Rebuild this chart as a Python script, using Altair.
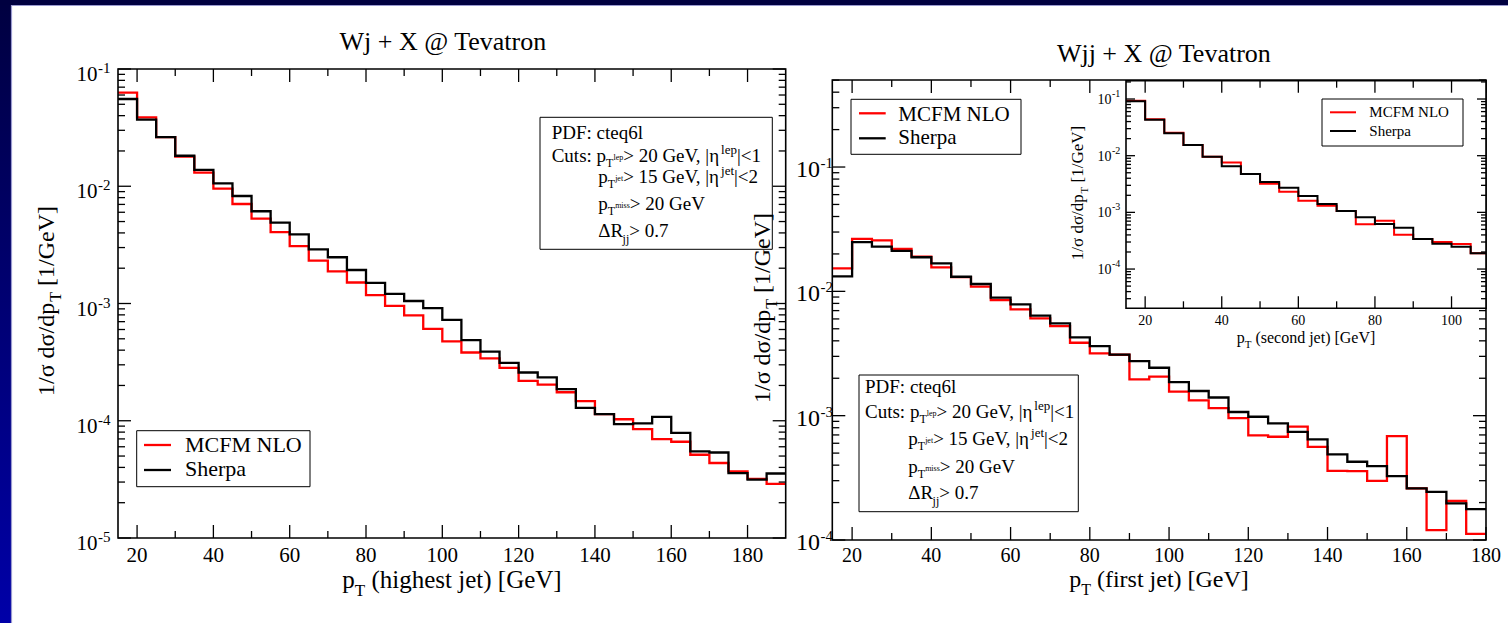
import altair as alt
import pandas as pd

FONT = "Liberation Serif"

# ---------------- data ----------------
BIN_W = 5
wj_bins = [15, 20, 25, 30, 35, 40, 45, 50, 55, 60, 65, 70, 75, 80, 85, 90, 95, 100,
           105, 110, 115, 120, 125, 130, 135, 140, 145, 150, 155, 160, 165, 170, 175, 180, 185]
wj_mcfm = [0.0628, 0.0387, 0.0262, 0.01786, 0.01305, 0.00954, 0.00706, 0.0053, 0.00407,
           0.00308, 0.00232, 0.00188, 0.00151, 0.00118, 0.000954, 0.000792, 0.000607,
           0.000475, 0.000382, 0.00034, 0.000283, 0.000219, 0.000203, 0.000175, 0.000147,
           0.000114, 0.000103, 0.0000849, 0.0000698, 0.0000662, 0.0000513, 0.0000436,
           0.000037, 0.0000319, 0.0000289]
wj_sherpa = [0.0555, 0.037, 0.0262, 0.0182, 0.01377, 0.0106, 0.00826, 0.00612, 0.0049,
             0.00389, 0.0029, 0.00248, 0.00193, 0.0015, 0.00121, 0.00105, 0.000912,
             0.000724, 0.000488, 0.000389, 0.000312, 0.000258, 0.000234, 0.000186, 0.000129,
             0.000114, 0.0000936, 0.0000948, 0.000108, 0.0000789, 0.0000547, 0.0000536,
             0.0000358, 0.0000315, 0.0000355]

wjj_bins = [15, 20, 25, 30, 35, 40, 45, 50, 55, 60, 65, 70, 75, 80, 85, 90, 95, 100,
            105, 110, 115, 120, 125, 130, 135, 140, 145, 150, 155, 160, 165, 170, 175]
wjj_mcfm = [0.0153, 0.0264, 0.0257, 0.022, 0.019, 0.0156, 0.013, 0.0109, 0.0085, 0.00716,
            0.00607, 0.00526, 0.00386, 0.00317, 0.00309, 0.00196, 0.00206, 0.00156, 0.00133,
            0.00115, 0.000957, 0.000695, 0.000677, 0.000815, 0.000562, 0.00036, 0.000358,
            0.000299, 0.000686, 0.00026, 0.00012, 0.000206, 0.000112]
wjj_sherpa = [0.0132, 0.0249, 0.0229, 0.0212, 0.0188, 0.0168, 0.0131, 0.01146, 0.00889,
              0.00786, 0.00637, 0.00553, 0.00427, 0.00363, 0.0031, 0.00275, 0.00243, 0.00186,
              0.00158, 0.0014, 0.00107, 0.00098, 0.000867, 0.000742, 0.000644, 0.000489,
              0.000426, 0.000393, 0.000327, 0.00026, 0.000244, 0.000197, 0.000177]

ins_bins = [15, 20, 25, 30, 35, 40, 45, 50, 55, 60, 65, 70, 75, 80, 85, 90, 95, 100, 105]
ins_mcfm = [0.093, 0.0438, 0.0255, 0.0155, 0.0096, 0.00762, 0.00475, 0.0032, 0.00232,
            0.00161, 0.00131, 0.00106, 0.000615, 0.000714, 0.000403, 0.000338, 0.000299,
            0.000276, 0.00019]
ins_sherpa = [0.091, 0.0430, 0.0250, 0.0155, 0.0096, 0.00648, 0.00475, 0.00343, 0.00273,
              0.00195, 0.00141, 0.00106, 0.000818, 0.000624, 0.000535, 0.000338, 0.00028,
              0.000247, 0.00019]

x_major_main = [20, 40, 60, 80, 100, 120, 140, 160, 180]
x_minor_main = [30, 50, 70, 90, 110, 130, 150, 170]
x_major_ins = [20, 40, 60, 80, 100]
x_minor_ins = [30, 50, 70, 90]

# ---------------- text metrics (Times-like) ----------------
CW = {' ': 250, '!': 333, '(': 333, ')': 333, '+': 564, ',': 250, '-': 333, '.': 250,
      '/': 278, ':': 278, '<': 564, '=': 564, '>': 564, '@': 921, '|': 200, '[': 333,
      ']': 333, 'A': 722, 'C': 667, 'D': 722, 'F': 556, 'G': 722, 'L': 611, 'M': 889,
      'N': 722, 'O': 722, 'P': 556, 'R': 667, 'S': 556, 'T': 611, 'V': 722, 'W': 944,
      'X': 722, 'a': 444, 'c': 444, 'd': 500, 'e': 444, 'f': 333, 'g': 500, 'h': 500,
      'i': 278, 'j': 278, 'l': 278, 'm': 778, 'n': 500, 'o': 500, 'p': 500, 'q': 500,
      'r': 333, 's': 389, 't': 278, 'u': 500, 'v': 500, 'σ': 560, 'η': 500, 'Δ': 612}


def tw(s, size):
    return sum(CW.get(c, 500) for c in s) * size / 1000.0


def rich(x0, y0, segs, rows, center=False):
    if center:
        x0 = x0 - sum(tw(t, s) for t, s, d in segs) / 2
    x = x0
    for text, size, dy in segs:
        lead = len(text) - len(text.lstrip(' '))
        t = text.strip(' ')
        if t:
            rows.append(dict(x=x + lead * 0.25 * size, y=y0 + dy, text=t, size=size))
        x += tw(text, size)


def rich_rot(xb, yc, segs, rows):
    total = sum(tw(t, s) for t, s, d in segs)
    y = yc + total / 2
    for text, size, dx in segs:
        lead = len(text) - len(text.lstrip(' '))
        t = text.strip(' ')
        if t:
            rows.append(dict(x=xb + dx, y=y - lead * 0.25 * size, text=t, size=size))
        y -= tw(text, size)


ONE = pd.DataFrame({'a': [0]})


def box(x0, x1, y0, y1, fill='white', stroke='black', sw=1.0):
    return alt.Chart(ONE).mark_rect(fill=fill, stroke=stroke, strokeWidth=sw).encode(
        x=alt.value(x0), x2=alt.value(x1), y=alt.value(y0), y2=alt.value(y1))


def hline(x0, x1, y, color, sw):
    return alt.Chart(ONE).mark_rule(color=color, strokeWidth=sw).encode(
        x=alt.value(x0), x2=alt.value(x1), y=alt.value(y))


def minors(e0, e1, lo, hi):
    out = []
    for e in range(e0, e1 + 1):
        for m in range(2, 10):
            v = m * 10.0 ** e
            if lo < v < hi:
                out.append(v)
    return out


def panel(P):
    xsc = alt.Scale(domain=P['xd'], range=[P['x0'], P['x1']], clamp=True, nice=False, zero=False)
    ysc = alt.Scale(type='log', domain=P['yd'], range=[P['y1'], P['y0']], clamp=True, nice=False)
    L = []
    if P.get('fill'):
        L.append(box(P['x0'], P['x1'], P['y0'], P['y1'], fill='white', stroke=None, sw=0))
    for bins, vals, col in P['series']:
        df = pd.DataFrame({'x': list(bins) + [bins[-1] + BIN_W], 'v': list(vals) + [vals[-1]]})
        L.append(alt.Chart(df).mark_line(interpolate='step-after', color=col,
                                         strokeWidth=P['lw']).encode(
            x=alt.X('x:Q', scale=xsc, axis=None), y=alt.Y('v:Q', scale=ysc, axis=None)))
    L.append(box(P['x0'], P['x1'], P['y0'], P['y1'], fill=None, stroke='black', sw=1.6))
    # x ticks (inward, bottom and top)
    for vals, ln in ((P['xmaj'], P['xt'][0]), (P['xmin'], P['xt'][1])):
        d = pd.DataFrame({'v': vals})
        for ya, yb in ((P['y1'], P['y1'] - ln), (P['y0'], P['y0'] + ln)):
            L.append(alt.Chart(d).mark_rule(color='black', strokeWidth=1.3).encode(
                x=alt.X('v:Q', scale=xsc, axis=None), y=alt.value(ya), y2=alt.value(yb)))
    # y ticks (inward, left and right)
    for vals, ln in ((P['ymaj'], P['yt'][0]), (P['ymin'], P['yt'][1])):
        d = pd.DataFrame({'v': vals})
        for xa, xb in ((P['x0'], P['x0'] + ln), (P['x1'], P['x1'] - ln)):
            L.append(alt.Chart(d).mark_rule(color='black', strokeWidth=1.3).encode(
                y=alt.Y('v:Q', scale=ysc, axis=None), x=alt.value(xa), x2=alt.value(xb)))
    # x tick labels
    dl = pd.DataFrame({'v': P['xmaj'], 'lab': [str(v) for v in P['xmaj']]})
    L.append(alt.Chart(dl).mark_text(font=FONT, fontSize=P['xfs'], align='center',
                                     baseline='alphabetic', color='black').encode(
        x=alt.X('v:Q', scale=xsc, axis=None), y=alt.value(P['xlab_y']), text='lab:N'))
    # y tick labels: "10" + raised exponent
    dy_ = pd.DataFrame({'v': P['ymaj'], 'base': ['10'] * len(P['ymaj']),
                        'ex': [str(e) for e in P['yexp']]})
    L.append(alt.Chart(dy_).mark_text(font=FONT, fontSize=P['yfs'], align='right',
                                      baseline='alphabetic', dy=P['ydy'][0], color='black').encode(
        y=alt.Y('v:Q', scale=ysc, axis=None), x=alt.value(P['ylab_x']), text='base:N'))
    L.append(alt.Chart(dy_).mark_text(font=FONT, fontSize=P['efs'], align='left',
                                      baseline='alphabetic', dy=P['ydy'][1], color='black').encode(
        y=alt.Y('v:Q', scale=ysc, axis=None), x=alt.value(P['ylab_x'] + 0.5), text='ex:N'))
    return L


LEFT = dict(x0=118, x1=785.7, y0=69, y1=538, xd=[15, 190], yd=[1e-5, 1e-1],
            series=[(wj_bins, wj_mcfm, '#ff0000'), (wj_bins, wj_sherpa, '#000000')], lw=2.3,
            xmaj=x_major_main, xmin=x_minor_main,
            ymaj=[1e-5, 1e-4, 1e-3, 1e-2, 1e-1], yexp=[-5, -4, -3, -2, -1],
            ymin=minors(-5, -2, 1e-5, 1e-1), xt=(13, 7), yt=(13, 7),
            xfs=21, xlab_y=562, yfs=21, efs=15, ylab_x=97.5, ydy=(12, 4))
RIGHT = dict(x0=832.3, x1=1486, y0=80, y1=540, xd=[15, 180], yd=[1e-4, 0.5012],
             series=[(wjj_bins, wjj_mcfm, '#ff0000'), (wjj_bins, wjj_sherpa, '#000000')], lw=2.3,
             xmaj=x_major_main, xmin=x_minor_main,
             ymaj=[1e-4, 1e-3, 1e-2, 1e-1], yexp=[-4, -3, -2, -1],
             ymin=minors(-4, -1, 1e-4, 0.5012), xt=(13, 7), yt=(13, 7),
             xfs=20, xlab_y=562, yfs=24, efs=15, ylab_x=820, ydy=(10, 1))
INSET = dict(x0=1126, x1=1486, y0=80.7, y1=308.3, xd=[15, 109], yd=[2.03e-5, 0.2104],
             series=[(ins_bins, ins_mcfm, '#ff0000'), (ins_bins, ins_sherpa, '#000000')], lw=2.0,
             xmaj=x_major_ins, xmin=x_minor_ins, fill=True,
             ymaj=[1e-4, 1e-3, 1e-2, 1e-1], yexp=[-4, -3, -2, -1],
             ymin=minors(-5, -1, 2.03e-5, 0.2104), xt=(12, 7), yt=(9, 5),
             xfs=14, xlab_y=325, yfs=14, efs=10, ylab_x=1111.5, ydy=(5, -2))

# ---------------- text annotations ----------------
rows = []
rich(444, 50, [("Wj + X @ Tevatron", 26, 0)], rows, center=True)
rich(1165, 62, [("Wjj + X @ Tevatron", 26, 0)], rows, center=True)
rich(452, 588, [("p", 25, 0), ("T", 17, 8), (" (highest jet) [GeV]", 25, 0)], rows, center=True)
rich(1159, 587, [("p", 24, 0), ("T", 16, 8), (" (first jet) [GeV]", 24, 0)], rows, center=True)
rich(1306, 343, [("p", 16, 0), ("T", 11, 5), (" (second jet) [GeV]", 16, 0)], rows, center=True)


def cuts_box(x0, ind, ys, fs, rows):
    rich(x0, ys[0], [("PDF: cteq6l", fs, 0)], rows)
    rich(x0, ys[1], [("Cuts: ", fs, 0), ("p", fs, 0), ("T", 12, 5), ("lep", 8, -2),
                     ("> 20 GeV, |η", fs, 0), ("lep", 13, -8), ("|<1", fs, 0)], rows)
    rich(ind, ys[2], [("p", fs, 0), ("T", 12, 5), ("jet", 8, -2),
                      ("> 15 GeV, |η", fs, 0), ("jet", 13, -8), ("|<2", fs, 0)], rows)
    rich(ind, ys[3], [("p", fs, 0), ("T", 12, 5), ("miss", 8, -2), ("> 20 GeV", fs, 0)], rows)
    rich(ind, ys[4], [("ΔR", fs, 0), ("jj", 12, 6), ("> 0.7", fs, 0)], rows)


cuts_box(551.7, 598.3, [139, 161.7, 183.3, 210, 236.7], 19, rows)
cuts_box(865, 908.3, [393, 418, 445, 473, 499], 19, rows)

# legends
rich(185, 452, [("MCFM NLO", 22, 0)], rows)
rich(185, 476, [("Sherpa", 22, 0)], rows)
rich(898.3, 121.2, [("MCFM NLO", 21, 0)], rows)
rich(898.3, 144, [("Sherpa", 21, 0)], rows)
rich(1369.3, 117.3, [("MCFM NLO", 15, 0)], rows)
rich(1369.3, 136, [("Sherpa", 15, 0)], rows)

rot = []
rich_rot(54, 301, [("1/σ dσ/dp", 24, 0), ("T", 16, 7), (" [1/GeV]", 24, 0)], rot)
rich_rot(770, 308, [("1/σ dσ/dp", 24, 0), ("T", 16, 7), (" [1/GeV]", 24, 0)], rot)
rich_rot(1083, 193, [("1/σ dσ/dp", 17, 0), ("T", 11, 5), (" [1/GeV]", 17, 0)], rot)

text_df = pd.DataFrame(rows)
rot_df = pd.DataFrame(rot)

layers = []
# slide background
layers.append(box(0, 1508, 0, 623, fill='white', stroke=None, sw=0))
layers.append(alt.Chart(ONE).mark_rect(
    color=alt.Gradient(gradient='linear',
                       stops=[alt.GradientStop(color='#000040', offset=0),
                              alt.GradientStop(color='#0000a8', offset=1)],
                       x1=0, x2=0, y1=0, y2=1)).encode(
    x=alt.value(0), x2=alt.value(11), y=alt.value(0), y2=alt.value(623)))
layers.append(box(0, 1508, 0, 5, fill='#000040', stroke=None, sw=0))
layers.append(hline(11, 1508, 5.5, '#9a9ad0', 1.2))
layers.append(alt.Chart(ONE).mark_rule(color='#9a9ad0', strokeWidth=1.2).encode(
    x=alt.value(11.5), y=alt.value(5), y2=alt.value(623)))

layers += panel(LEFT)
layers += panel(RIGHT)

# cuts boxes and main legends (drawn below inset)
layers.append(box(540, 772.3, 117.3, 249.3, fill='white', stroke='black', sw=1.0))
layers.append(box(859, 1078.3, 375, 511.7, fill='white', stroke='black', sw=1.0))
layers.append(box(136.7, 310, 430.7, 486.7, fill='white', stroke='black', sw=1.0))
layers.append(hline(144, 171, 445, '#ff0000', 2.3))
layers.append(hline(144, 171, 470, '#000000', 2.3))
layers.append(box(851, 1021, 99.3, 154.3, fill='white', stroke='black', sw=1.0))
layers.append(hline(859, 885.7, 113.3, '#ff0000', 2.3))
layers.append(hline(859, 885.7, 138.3, '#000000', 2.3))

layers += panel(INSET)
layers.append(box(1322, 1463, 99, 146, fill='white', stroke='black', sw=1.0))
layers.append(hline(1330, 1356, 112.3, '#ff0000', 2.0))
layers.append(hline(1330, 1356, 131, '#000000', 2.0))

layers.append(alt.Chart(text_df).mark_text(font=FONT, align='left', baseline='alphabetic',
                                           color='black').encode(
    x=alt.X('x:Q', scale=None, axis=None), y=alt.Y('y:Q', scale=None, axis=None),
    size=alt.Size('size:Q', scale=None, legend=None), text='text:N'))
layers.append(alt.Chart(rot_df).mark_text(font=FONT, align='left', baseline='alphabetic',
                                          angle=270, color='black').encode(
    x=alt.X('x:Q', scale=None, axis=None), y=alt.Y('y:Q', scale=None, axis=None),
    size=alt.Size('size:Q', scale=None, legend=None), text='text:N'))

chart = alt.layer(*layers).resolve_scale(
    x='independent', y='independent', size='independent'
).properties(
    width=1508, height=623, padding=0, autosize=alt.AutoSizeParams(type='none'),
    background='white'
).configure_view(stroke=None)

chart.save("out.html", embed_options={"renderer": "svg", "actions": False})
